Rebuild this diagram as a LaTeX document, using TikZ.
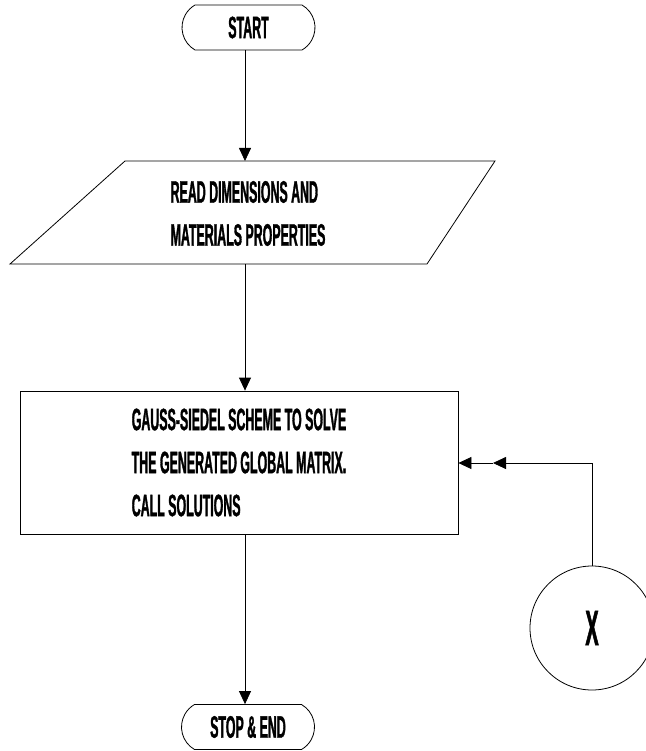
\documentclass[tikz,border=0pt]{standalone}
\usepackage{fontspec}
\newfontfamily\chartfont{Liberation Sans}[FakeStretch=0.40,FakeBold=1]
\usetikzlibrary{arrows.meta,shapes.misc}

\begin{document}
\begin{tikzpicture}[x=1pt,y=-1pt,line width=0.8pt,
    term/.style={draw,rounded rectangle,rounded rectangle arc length=120,
      minimum width=133pt,minimum height=45pt,inner sep=0pt},
    flowarrow/.style={-{Triangle[length=13pt,width=12pt]}},
    chart/.style={font=\chartfont\bfseries\fontsize{31}{43}\selectfont}]
      \useasboundingbox (0,0) rectangle (645,751);
      \node [term,chart] (start) at (248.5,27.5) {START};
      \coordinate (readtop) at (245,161);
      \coordinate (readbot) at (245,264);
      \draw (125,161) -- (495,161) -- (427,264) -- (10,264) -- cycle;
      \node [chart,align=left] (read) at (248,213.5) {READ DIMENSIONS AND\\MATERIALS PROPERTIES};
      \node [draw,chart,align=left,minimum width=438pt,minimum height=143pt] (solve) at (239,462.5)
        {GAUSS-SIEDEL SCHEME TO SOLVE\\THE GENERATED GLOBAL MATRIX.\\CALL SOLUTIONS};
      \node [term,chart] (stop) at (248,727) {STOP \& END};
      \node [draw,circle,minimum size=124pt,font=\chartfont\bfseries\fontsize{50}{50}\selectfont] (conn) at (592,628) {X};
      \coordinate (mid) at (493,463);
      \draw [flowarrow] (readtop |- start.south) -- (readtop);
      \draw [flowarrow] (readbot) -- (readbot |- solve.north);
      \draw [flowarrow] (readbot |- solve.south) -- (readbot |- stop.north);
      \draw [flowarrow] (conn.north) |- (mid);
      \draw [flowarrow] (mid) -- (solve.east |- mid);
    \end{tikzpicture}
\end{document}
